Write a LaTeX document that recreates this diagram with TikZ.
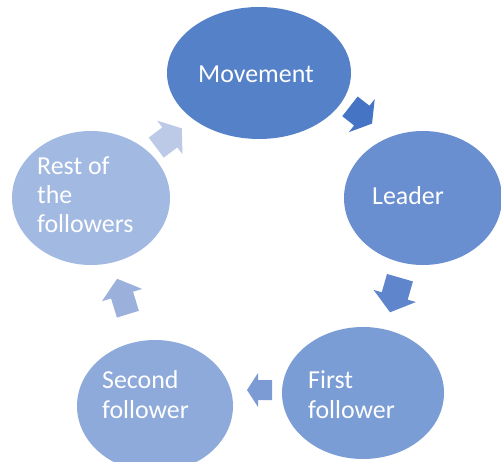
\documentclass[tikz,border=0pt]{standalone}
\usepackage{fontspec}
\setmainfont{Carlito}
\usetikzlibrary{shapes.geometric}
\definecolor{cA}{HTML}{5581C9}
\definecolor{cB}{HTML}{6A8FD0}
\definecolor{cC}{HTML}{7B9DD5}
\definecolor{cD}{HTML}{8EAADA}
\definecolor{cE}{HTML}{A2B9E1}
\definecolor{aA}{HTML}{4674C4}
\definecolor{aB}{HTML}{5F86CC}
\definecolor{aC}{HTML}{7C9BD4}
\definecolor{aD}{HTML}{9BB0DB}
\definecolor{aE}{HTML}{BCCAE8}
\tikzset{
  blob/.style={ellipse, draw=none, inner sep=0pt},
  txt/.style={text=white, align=left, inner sep=0pt, font=\fontsize{26}{29.2}\selectfont}
}
% block arrow: #1 x, #2 y, #3 angle, #4 length, #5 shaft width, #6 head width, #7 head length, #8 colour
\newcommand\myblockarr[8]{%
  \fill[#8, shift={(#1,#2)}, rotate=#3]
    ({-#4/2},{-#5/2}) -- ({#4/2-#7},{-#5/2}) -- ({#4/2-#7},{-#6/2}) -- ({#4/2},0)
    -- ({#4/2-#7},{#6/2}) -- ({#4/2-#7},{#5/2}) -- ({-#4/2},{#5/2}) -- cycle;}
\begin{document}
\begin{tikzpicture}[x=1bp,y=-1bp]
\useasboundingbox (0,0) rectangle (501,462);
\begin{scope}
\clip (0,0) rectangle (501,462);
\node[blob, fill=cA, minimum width=184bp, minimum height=132bp] (mov) at (259,73) {};
\node[blob, fill=cB, minimum width=158bp, minimum height=134bp] (lea) at (423,198) {};
\node[blob, fill=cC, minimum width=162bp, minimum height=132bp] (fir) at (363,393) {};
\node[blob, fill=cD, minimum width=156bp, minimum height=132bp] (sec) at (155,406) {};
\node[blob, fill=cE, minimum width=158bp, minimum height=134bp] (res) at (91,198) {};

\node[txt, anchor=base west] (tmov) at (198,83) {Movement};
\node[txt, anchor=base west] (tlea) at (372,205) {Leader};
\node[txt, anchor=base west] (tfir) at (308,418) {First\\follower};
\node[txt, anchor=base west] (tsec) at (102,418) {Second\\follower};
\node[txt, anchor=base west] (tres) at (37,233) {Rest of\\the\\followers};

\myblockarr{361}{115}{-38}{28}{25}{42}{13}{aA}
\myblockarr{395}{295}{-106}{36}{27}{44}{17}{aB}
\myblockarr{259.5}{390}{180}{25}{20}{34}{11}{aC}
\myblockarr{122.5}{296.5}{107}{37}{23}{42}{17}{aD}
\myblockarr{169}{138}{37}{32}{25}{42}{15}{aE}
\end{scope}
\end{tikzpicture}
\end{document}
